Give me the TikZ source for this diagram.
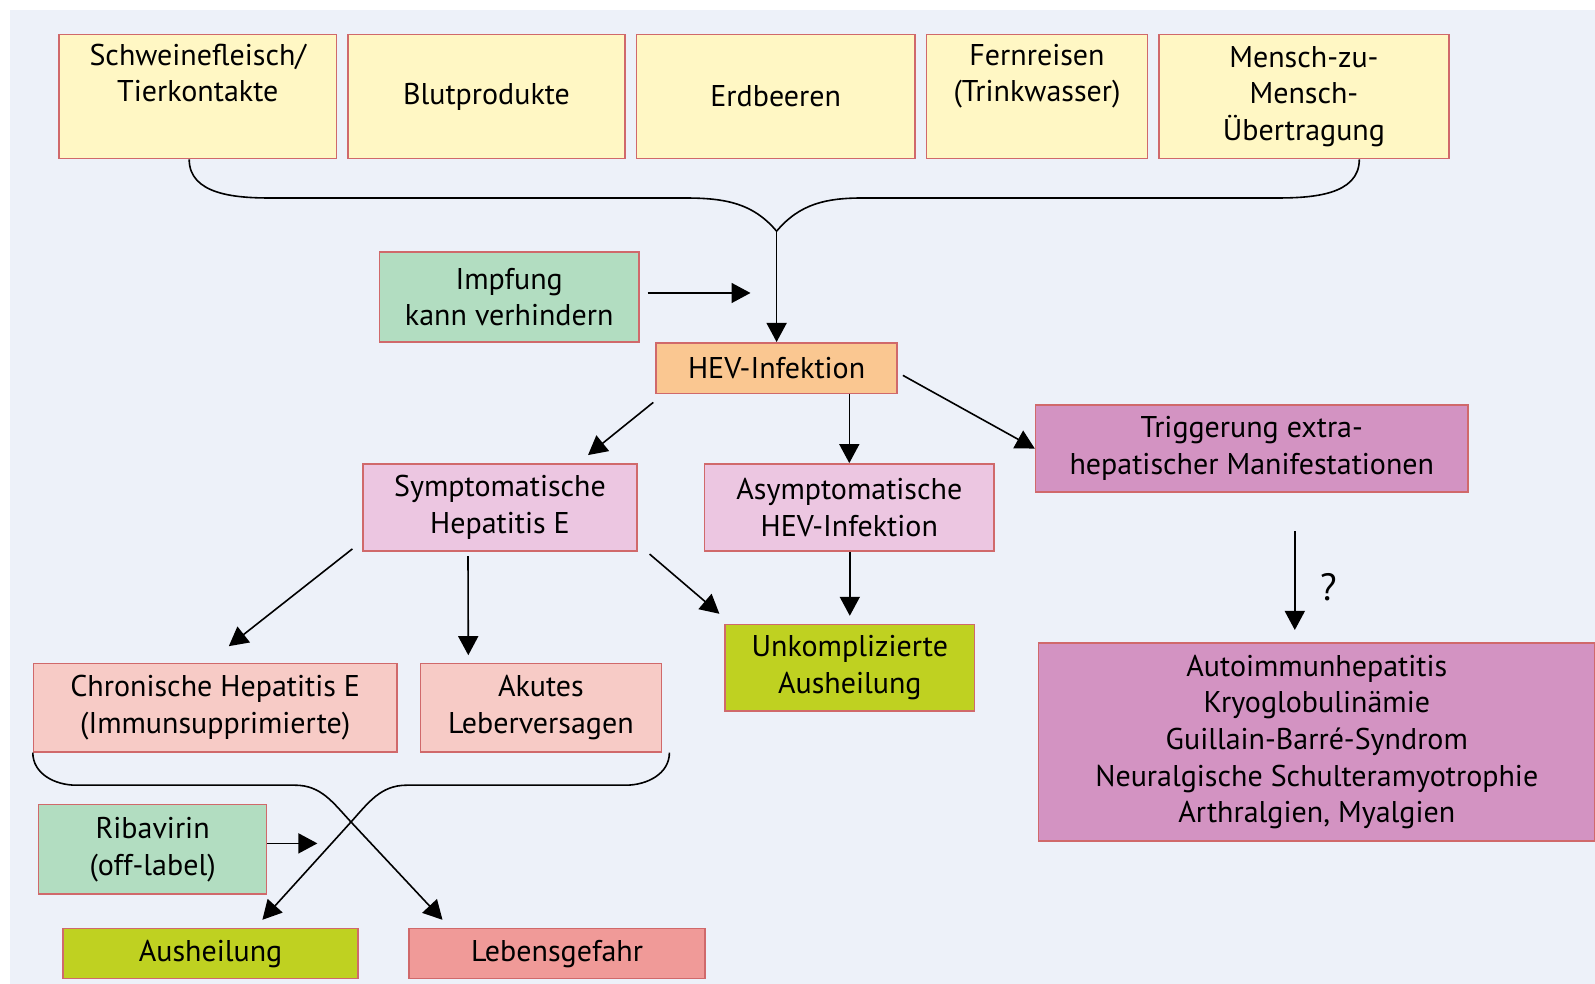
\documentclass[tikz,border=0pt]{standalone}
\usepackage{fontspec}
\setmainfont{PT Sans}
\usetikzlibrary{arrows.meta, positioning, calc}

\definecolor{grund}{HTML}{EDF1F9}
\definecolor{rand}{HTML}{D0696B}
\definecolor{gelb}{HTML}{FFF7C4}
\definecolor{gruen}{HTML}{B2DDC1}
\definecolor{orange}{HTML}{FAC791}
\definecolor{rosa}{HTML}{ECC6E1}
\definecolor{mauve}{HTML}{D393C2}
\definecolor{lachs}{HTML}{F7CBC6}
\definecolor{gelbgruen}{HTML}{BFD121}
\definecolor{rot}{HTML}{F09A98}

\begin{document}
\begin{tikzpicture}[
      x=1pt, y=1pt,
      node distance=5pt,
      kasten/.style={draw=rand, line width=0.8pt, align=center, inner sep=2pt,
                     font=\fontsize{15pt}{18.3pt}\selectfont},
      quelle/.style={kasten, fill=gelb, minimum height=62pt},
      pfeil/.style={-{Triangle[length=9.5pt, width=10pt]}, line width=0.8pt},
      klammer/.style={line width=0.8pt}
    ]
    \useasboundingbox (0,0) rectangle (797.5,492);
    \fill[grund] (5,0) rectangle (797.5,487);

    % Infektionsquellen
    \node[quelle, minimum width=138.8pt] (schwein) at (98.9,443.7)
      {Schweinefleisch/\\Tierkontakte\\\strut};
    \node[quelle, minimum width=138.3pt, right=of schwein] (blut) {Blutprodukte};
    \node[quelle, minimum width=139.3pt, right=of blut] (erdbeer) {Erdbeeren};
    \node[quelle, minimum width=110.4pt, right=of erdbeer] (fern)
      {Fernreisen\\(Trinkwasser)\\\strut};
    \node[quelle, minimum width=144.9pt, right=of fern] (mensch)
      {Mensch-zu-\\Mensch-\\Übertragung};

    \node[kasten, fill=gruen, minimum width=129.7pt, minimum height=44.8pt] (impfung)
      at (254.6,343.5) {Impfung\\kann verhindern};
    \node[kasten, fill=orange, minimum width=120.5pt, minimum height=25.4pt] (hev)
      at (388.3,307.9) {HEV-Infektion};

    % Verlauf
    \node[kasten, fill=rosa, minimum width=136.8pt, minimum height=43.7pt] (symp)
      at (250.0,238.2) {Symptomatische\\Hepatitis E};
    \node[kasten, fill=rosa, minimum width=144.9pt, minimum height=43.7pt,
          right=33pt of symp] (asymp) {Asymptomatische\\HEV-Infektion};
    \node[kasten, fill=mauve, minimum width=216.2pt, minimum height=43.7pt] (trig)
      at (625.9,267.7) {Triggerung extra-\\hepatischer Manifestationen};
    \node[kasten, fill=gelbgruen, minimum width=124.6pt, minimum height=43.2pt] (unkomp)
      at (424.9,158.1) {Unkomplizierte\\Ausheilung};
    \node[kasten, fill=lachs, minimum width=181.6pt, minimum height=44.2pt] (chron)
      at (107.6,138.2) {Chronische Hepatitis E\\(Immunsupprimierte)};
    \node[kasten, fill=lachs, minimum width=120.5pt, minimum height=44.2pt,
          right=11pt of chron] (akut) {Akutes\\Leberversagen};
    \node[kasten, fill=mauve, minimum width=278.2pt, minimum height=99.2pt] (auto)
      at (658.4,121.0) {Autoimmunhepatitis\\Kryoglobulinämie\\Guillain-Barré-Syndrom\\
      Neuralgische Schulteramyotrophie\\Arthralgien, Myalgien};
    \node[kasten, fill=gruen, minimum width=114pt, minimum height=44.8pt] (ribavirin)
      at (76.3,67.3) {Ribavirin\\(off-label)};
    \node[kasten, fill=gelbgruen, minimum width=147.5pt, minimum height=25pt] (ausheil)
      at (105.3,15.2) {Ausheilung};
    \node[kasten, fill=rot, minimum width=148pt, minimum height=25pt,
          right=24.7pt of ausheil] (lebens) {Lebensgefahr};
    \node[font=\fontsize{19pt}{19pt}\selectfont] (frage) at (664.2,198.5) {?};

    % Klammer oben
    \coordinate (spitze) at ($(hev.north)+(0,55.4)$);
    \draw[klammer] ([xshift=-4.3pt]schwein.south) to[out=-90,in=180] (134.8,393)
      -- (341.5,393) to[out=0,in=130] (spitze);
    \draw[klammer] ([xshift=27.7pt]mensch.south) to[out=-90,in=0] (638.3,393)
      -- (431.5,393) to[out=180,in=50] (spitze);
    \draw[pfeil] (spitze) -- (hev.north);
    \coordinate (impfziel) at ($(impfung.east)+(55.4,2)$);
    \draw[pfeil] ([shift={(4,2)}]impfung.east) -- (impfziel);

    % Pfeile
    \draw[pfeil] ([shift={(-1,-4)}]hev.south west) -- ([shift={(44,4)}]symp.north);
    \draw[pfeil] (asymp.north |- hev.south) -- (asymp.north);
    \draw[pfeil] ([shift={(2.5,-3.6)}]hev.east) -- (trig.west);
    \draw[pfeil] ([shift={(-5,1.6)}]symp.south west) -- ([shift={(6.8,8.2)}]chron.north);
    \draw[pfeil] ([shift={(-16,-2)}]symp.south) -- ([shift={(-36.3,3.7)}]akut.north);
    \draw[pfeil] ([shift={(6,-1)}]symp.south east) -- ([shift={(-2.5,5)}]unkomp.north west);
    \draw[pfeil] (unkomp.north |- asymp.south) -- ([yshift=4pt]unkomp.north);
    \draw[pfeil] ([shift={(21.5,-19)}]trig.south) -- ([shift={(-11,6)}]auto.north);

    % Klammer unten
    \coordinate (kreuz) at (175.5,81);
    \draw[pfeil] (chron.south west) to[out=-90,in=180] (38.1,99.4) -- (147.5,99.4)
      to[out=0,in=133] (kreuz) -- ([shift={(-57.3,4)}]lebens.north);
    \draw[pfeil] ([xshift=3.6pt]akut.south east) to[out=-90,in=0] (312.8,99.4)
      -- (203.4,99.4) to[out=180,in=48] (kreuz) -- ([shift={(25.9,4)}]ausheil.north);
    \coordinate (ribaziel) at ($(ribavirin.east)+(25,3)$);
    \draw[pfeil] ([yshift=3pt]ribavirin.east) -- (ribaziel);
  \end{tikzpicture}
\end{document}
